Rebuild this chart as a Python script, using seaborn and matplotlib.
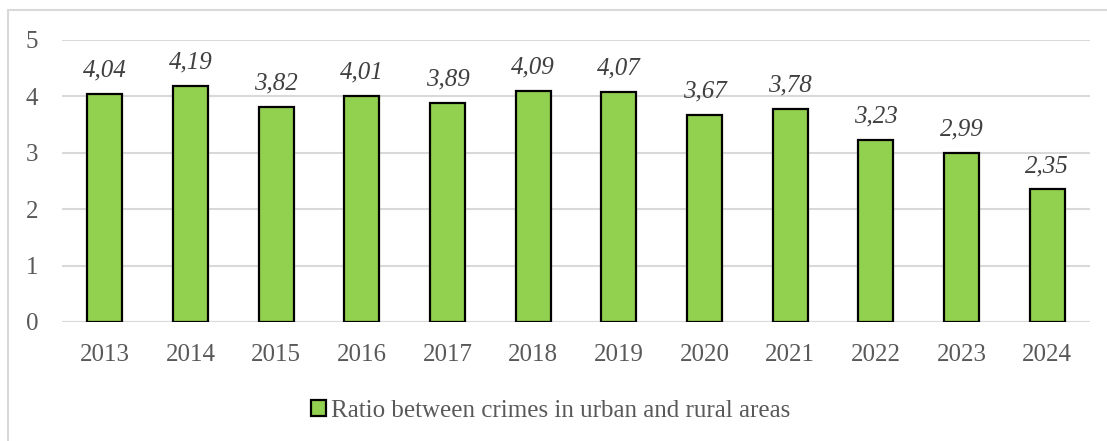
import matplotlib
matplotlib.use("Agg")
import matplotlib.pyplot as plt
import seaborn as sns
import pandas as pd
from matplotlib.patches import Rectangle, Patch

years = ["2013", "2014", "2015", "2016", "2017", "2018", "2019", "2020", "2021", "2022", "2023", "2024"]
ratios = [4.04, 4.19, 3.82, 4.01, 3.89, 4.09, 4.07, 3.67, 3.78, 3.23, 2.99, 2.35]
series_name = "Ratio between crimes in urban and rural areas"
yticks = [0, 1, 2, 3, 4, 5]

sns.set_theme(style="white")
plt.rcParams['font.family'] = ['Liberation Serif', 'DejaVu Serif']

df = pd.DataFrame({"year": years, "ratio": ratios})

fig = plt.figure(figsize=(11.07, 4.41), dpi=100)
ax = fig.add_axes([62/1107, 1 - 322/441, (1090-62)/1107, (322-40)/441])

bar_color = "#92D050"
sns.barplot(data=df, x="year", y="ratio", color=bar_color, edgecolor="black",
            linewidth=1.6, width=0.41, saturation=1, ax=ax, zorder=3)

ax.set_ylim(0, 5)
ax.set_xlim(-0.5, len(years) - 0.5)
ax.set_yticks(yticks)
ax.set_yticklabels([str(t) for t in yticks])
ax.yaxis.grid(True, color="#D9D9D9", linewidth=1.5, zorder=0)
ax.xaxis.grid(False)
for s in ax.spines.values():
    s.set_visible(False)
ax.axhline(0, color="#D9D9D9", linewidth=1.5, zorder=2)
ax.set_xlabel("")
ax.set_ylabel("")
ax.tick_params(axis="x", length=0, pad=15.5, labelsize=18, labelcolor="#595959")
ax.tick_params(axis="y", length=0, pad=17, labelsize=18, labelcolor="#595959")

labels = [f"{v:.2f}".replace(".", ",") for v in ratios]
ax.bar_label(ax.containers[0], labels=labels, padding=9, fontsize=18,
             fontstyle="italic", color="#404040", clip_on=False)

handle = Patch(facecolor=bar_color, edgecolor="black", linewidth=1.6, label=series_name)
fig.legend(handles=[handle], loc="center", bbox_to_anchor=(0.497, 0.068), frameon=False,
           fontsize=18, handlelength=0.6, handleheight=0.6, handletextpad=0.2,
           labelcolor="#595959")

fig.patches.append(Rectangle((8/1107, -0.05), 1.2, 1 - 10/441 + 0.05, transform=fig.transFigure,
                             fill=False, edgecolor="#D9D9D9", linewidth=1.5, zorder=0))

fig.savefig("out.png", dpi=100)
